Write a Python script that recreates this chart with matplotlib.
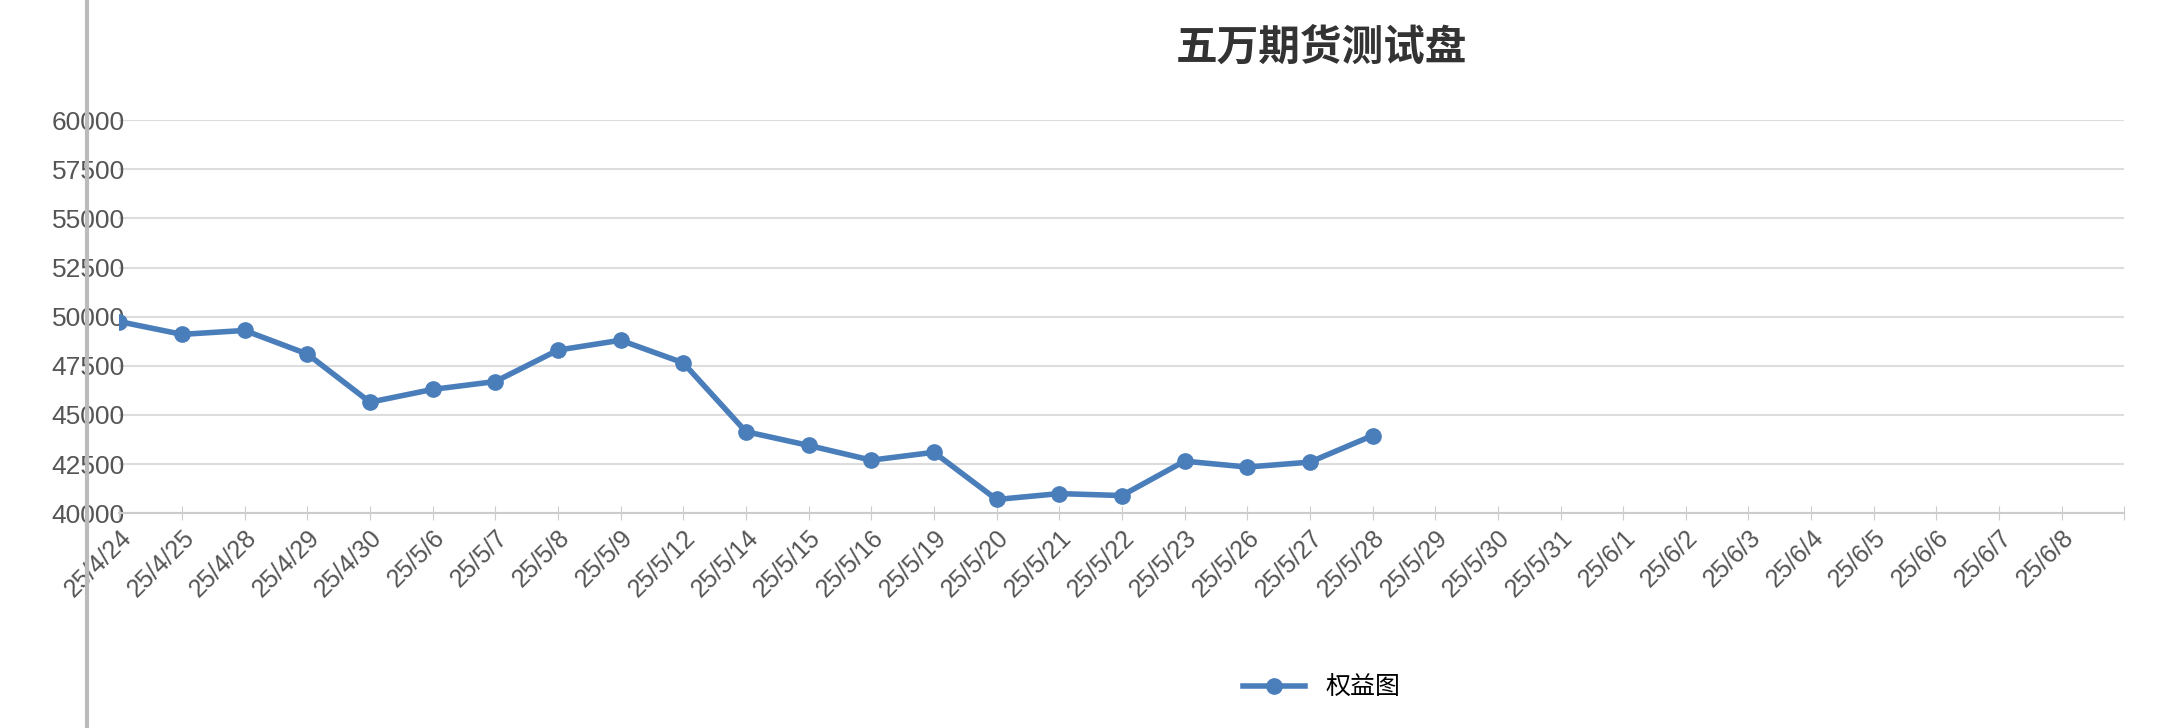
import matplotlib.pyplot as plt
from matplotlib.lines import Line2D

# 横轴日期
dates = ["25/4/24", "25/4/25", "25/4/28", "25/4/29", "25/4/30", "25/5/6", "25/5/7",
         "25/5/8", "25/5/9", "25/5/12", "25/5/14", "25/5/15", "25/5/16", "25/5/19",
         "25/5/20", "25/5/21", "25/5/22", "25/5/23", "25/5/26", "25/5/27", "25/5/28",
         "25/5/29", "25/5/30", "25/5/31", "25/6/1", "25/6/2", "25/6/3", "25/6/4",
         "25/6/5", "25/6/6", "25/6/7", "25/6/8"]
# 权益
equity = [49750, 49100, 49300, 48100, 45650, 46300, 46700, 48300, 48800, 47650,
          44150, 43450, 42700, 43100, 40700, 41000, 40900, 42650, 42350, 42600, 43950]
y_ticks = [40000, 42500, 45000, 47500, 50000, 52500, 55000, 57500, 60000]

plt.rcParams["font.family"] = ["Noto Sans CJK SC", "DejaVu Sans"]
fig = plt.figure(figsize=(21.7, 7.28), dpi=100)
ax = fig.add_axes([0.055, 0.295, 0.924, 0.54])

color = "#4a7ebb"
ax.plot(range(len(equity)), equity, color=color, lw=4, marker="o", ms=11)

ax.set_xlim(0, len(dates))
ax.set_ylim(40000, 60000)
ax.set_yticks(y_ticks)
ax.set_yticklabels([str(v) for v in y_ticks], fontsize=19, color="#555555",
                   fontfamily="Liberation Sans")
ax.set_xticks(range(len(dates) + 1))
ax.set_xticklabels(dates + [""], rotation=45, ha="right", rotation_mode="anchor",
                   fontsize=18, color="#555555", fontfamily="Liberation Sans")
ax.tick_params(axis="y", length=0, pad=-4)
ax.tick_params(axis="x", length=10, color="#cccccc", direction="inout", pad=4)
ax.grid(axis="y", color="#dddddd", lw=1.5)
for s in ["top", "right", "left"]:
    ax.spines[s].set_visible(False)
ax.spines["bottom"].set_color("#cccccc")
ax.spines["bottom"].set_linewidth(1.5)

fig.text(0.609, 0.935, "五万期货测试盘", ha="center", va="center",
         fontsize=30, fontweight="bold", color="#333333")
fig.add_artist(Line2D([0.040, 0.040], [0, 1], color="#bbbbbb", lw=3))

handle = Line2D([], [], color=color, lw=4, marker="o", ms=11)
fig.legend([handle], ["权益图"], loc="center", bbox_to_anchor=(0.609, 0.055),
           frameon=False, fontsize=18, handlelength=2.5)

fig.savefig("out.png")
